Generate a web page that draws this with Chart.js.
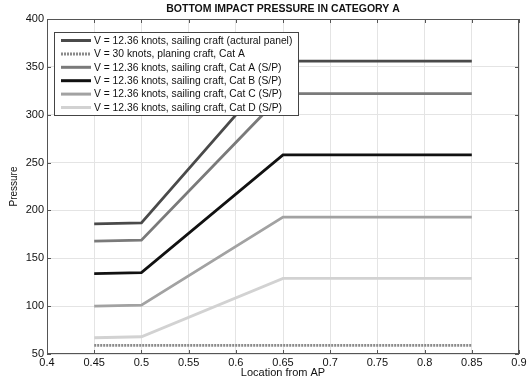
<!DOCTYPE html>
<html>
<head>
<meta charset="utf-8">
<script src="https://cdn.jsdelivr.net/npm/chart.js@4.4.1/dist/chart.umd.min.js"></script>
<style>
  html, body { margin: 0; padding: 0; background: #fff; }
  #wrap { width: 529px; height: 381px; }
</style>
</head>
<body>
<div id="wrap"><canvas id="pressureChart"></canvas></div>
<script>
// Location from AP (break points of each curve)
const locations = [0.45, 0.5, 0.65, 0.85];

const actualPanel = [186, 187, 356, 356];
const planingCatA = [59, 59, 59, 59];
const sailingCatA = [168, 169, 322, 322];
const sailingCatB = [134, 135, 258, 258];
const sailingCatC = [100, 101, 193, 193];
const sailingCatD = [67, 68, 129, 129];

const seriesLabels = [
  'V = 12.36 knots, sailing craft (actural panel)',
  'V = 30 knots, planing craft, Cat A',
  'V = 12.36 knots, sailing craft, Cat A (S/P)',
  'V = 12.36 knots, sailing craft, Cat B (S/P)',
  'V = 12.36 knots, sailing craft, Cat C (S/P)',
  'V = 12.36 knots, sailing craft, Cat D (S/P)',
];

const xTicks = [0.4, 0.45, 0.5, 0.55, 0.6, 0.65, 0.7, 0.75, 0.8, 0.85, 0.9];
const yTicks = [50, 100, 150, 200, 250, 300, 350, 400];

const chartTitle = 'BOTTOM IMPACT PRESSURE IN CATEGORY A';
const FONT = '"Liberation Sans", Arial, sans-serif';

function toPoints(values) {
  return values.map((v, i) => ({ x: locations[i], y: v }));
}

const styles = [
  { color: '#4a4a4a', dash: [] },
  { color: '#8a8a8a', dash: [2, 1] },
  { color: '#7a7a7a', dash: [] },
  { color: '#111111', dash: [] },
  { color: '#a2a2a2', dash: [] },
  { color: '#d2d2d2', dash: [] },
];

const allValues = [actualPanel, planingCatA, sailingCatA, sailingCatB, sailingCatC, sailingCatD];

const datasets = allValues.map((vals, i) => ({
  label: seriesLabels[i],
  data: toPoints(vals),
  borderColor: styles[i].color,
  borderDash: styles[i].dash,
  borderWidth: 2.8,
  pointRadius: 0,
  tension: 0,
  fill: false,
}));

// title, inner tick marks and the boxed legend inside the plot
const decorations = {
  id: 'decorations',
  afterDraw(chart) {
    const ctx = chart.ctx;
    const a = chart.chartArea;
    const xs = chart.scales.x;
    const ys = chart.scales.y;
    ctx.save();

    ctx.fillStyle = '#111';
    ctx.font = 'bold 10.5px ' + FONT;
    ctx.textAlign = 'center';
    ctx.textBaseline = 'middle';
    ctx.fillText(chartTitle, (a.left + a.right) / 2, 9);

    ctx.strokeStyle = '#555';
    ctx.lineWidth = 1;
    ctx.beginPath();
    xTicks.forEach((t) => {
      const px = Math.round(xs.getPixelForValue(t)) + 0.5;
      ctx.moveTo(px, a.bottom); ctx.lineTo(px, a.bottom - 4);
      ctx.moveTo(px, a.top); ctx.lineTo(px, a.top + 4);
    });
    yTicks.forEach((t) => {
      const py = Math.round(ys.getPixelForValue(t)) + 0.5;
      ctx.moveTo(a.left, py); ctx.lineTo(a.left + 4, py);
      ctx.moveTo(a.right, py); ctx.lineTo(a.right - 4, py);
    });
    ctx.stroke();
    ctx.strokeRect(a.left + 0.5, a.top + 0.5, a.right - a.left - 1, a.bottom - a.top - 1);

    // legend box
    const bx = 54, by = 32, bw = 244, bh = 83;
    ctx.fillStyle = '#fff';
    ctx.fillRect(bx, by, bw, bh);
    ctx.strokeStyle = '#444';
    ctx.strokeRect(bx + 0.5, by + 0.5, bw, bh);
    ctx.font = '10.3px ' + FONT;
    ctx.textAlign = 'left';
    chart.data.datasets.forEach((ds, i) => {
      const y = by + 8.5 + i * 13.4;
      ctx.strokeStyle = ds.borderColor;
      ctx.lineWidth = 3;
      ctx.setLineDash(ds.borderDash);
      ctx.beginPath();
      ctx.moveTo(61, y);
      ctx.lineTo(91, y);
      ctx.stroke();
      ctx.setLineDash([]);
      ctx.fillStyle = '#111';
      ctx.fillText(ds.label, 94, y + 0.5);
    });
    ctx.restore();
  },
};

const ctx = document.getElementById('pressureChart').getContext('2d');
new Chart(ctx, {
  type: 'line',
  data: { datasets: datasets },
  plugins: [decorations],
  options: {
    responsive: true,
    maintainAspectRatio: false,
    animation: false,
    layout: { padding: { top: 19, right: 10, left: 0, bottom: 0 } },
    plugins: {
      legend: { display: false },
      tooltip: { enabled: false },
    },
    scales: {
      x: {
        type: 'linear',
        min: 0.4,
        max: 0.9,
        afterBuildTicks: (s) => { s.ticks = xTicks.map((v) => ({ value: v })); },
        afterFit: (s) => { s.height = 27; },
        border: { display: false },
        grid: { color: '#e4e4e4', drawTicks: false },
        ticks: {
          color: '#111',
          padding: 2,
          maxRotation: 0,
          autoSkip: false,
          font: { family: FONT, size: 11 },
          callback: (v) => String(Math.round(v * 100) / 100),
        },
        title: {
          display: true,
          text: 'Location from AP',
          color: '#111',
          padding: { top: 0, bottom: 1 },
          font: { family: FONT, size: 11 },
        },
      },
      y: {
        min: 50,
        max: 400,
        afterBuildTicks: (s) => { s.ticks = yTicks.map((v) => ({ value: v })); },
        afterFit: (s) => { s.width = 47; },
        border: { display: false },
        grid: { color: '#e4e4e4', drawTicks: false },
        ticks: {
          color: '#111',
          padding: 3,
          autoSkip: false,
          font: { family: FONT, size: 11 },
        },
        title: {
          display: true,
          text: 'Pressure',
          color: '#111',
          padding: { top: 8, bottom: 0 },
          font: { family: FONT, size: 10 },
        },
      },
    },
  },
});
</script>
</body>
</html>
